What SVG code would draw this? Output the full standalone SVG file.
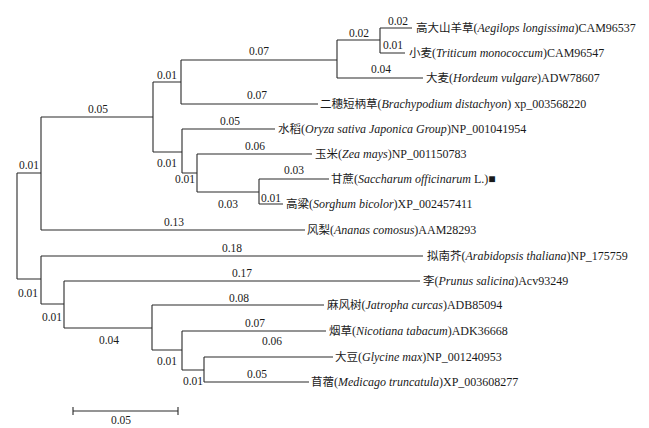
<svg xmlns="http://www.w3.org/2000/svg" width="649" height="428" viewBox="0 0 649 428">
<style>
.e{fill:none;stroke:#2a2a2a;stroke-width:1.1}
.n{font-family:"Liberation Serif",serif;font-size:11.5px;fill:#1a1a1a;text-anchor:middle}
.t{font-family:"Liberation Serif","Noto Sans CJK SC",serif;font-size:12px;fill:#1a1a1a}
.c{font-family:"Noto Sans CJK SC","Liberation Serif",sans-serif;font-size:11.5px}
.i{font-style:italic}
</style>
<rect width="649" height="428" fill="#fff"/>
<g id="connectors">
<path class="e" d="M17,173V279M17,173H41M41,117V230M41,117H153M153,82V152M153,82H181M181,60V104M181,60H337M337,40V78M337,40H380M380,28V53M380,28H412M380,53H405M337,78H423M181,104H318M153,152H182M182,129V173M182,129H275M182,173H197M197,154V192M197,154H312M197,192H259M259,179V204M259,179H329M259,204H283M41,230H305"/>
<path class="e" d="M17,279H41M41,256V304M41,256H423M41,304H64M64,281V328M64,281H420M64,328H152M152,305V350M152,305H324M152,350H182M182,331V370M182,331H326M182,370H204M204,357V382M204,357H333M204,382H309"/>
</g>
<g id="branch-lengths">
<text class="n" x="29" y="169">0.01</text>
<text class="n" x="98" y="113">0.05</text>
<text class="n" x="167" y="79">0.01</text>
<text class="n" x="259" y="55">0.07</text>
<text class="n" x="257" y="99">0.07</text>
<text class="n" x="359" y="37">0.02</text>
<text class="n" x="398" y="25">0.02</text>
<text class="n" x="393" y="49">0.01</text>
<text class="n" x="381" y="73">0.04</text>
<text class="n" x="230" y="125">0.05</text>
<text class="n" x="167" y="167">0.01</text>
<text class="n" x="255" y="150">0.06</text>
<text class="n" x="185" y="183">0.01</text>
<text class="n" x="294" y="174">0.03</text>
<text class="n" x="228" y="208">0.03</text>
<text class="n" x="271" y="202">0.01</text>
<text class="n" x="174" y="226">0.13</text>
<text class="n" x="28" y="297">0.01</text>
<text class="n" x="232" y="252">0.18</text>
<text class="n" x="242" y="277">0.17</text>
<text class="n" x="52" y="321">0.01</text>
<text class="n" x="109" y="344">0.04</text>
<text class="n" x="239" y="302">0.08</text>
<text class="n" x="167" y="365">0.01</text>
<text class="n" x="255" y="327">0.07</text>
<text class="n" x="272" y="345">0.06</text>
<text class="n" x="193" y="385">0.01</text>
<text class="n" x="257" y="378">0.05</text>
</g>
<g id="leaf-aegilops"><text class="t" x="416" y="32"><tspan class="c">高大山羊草</tspan>(<tspan class="i">Aegilops longissima</tspan>)CAM96537</text></g>
<g id="leaf-triticum"><text class="t" x="409" y="57"><tspan class="c">小麦</tspan>(<tspan class="i">Triticum monococcum</tspan>)CAM96547</text></g>
<g id="leaf-hordeum"><text class="t" x="426" y="82"><tspan class="c">大麦</tspan>(<tspan class="i">Hordeum vulgare</tspan>)ADW78607</text></g>
<g id="leaf-brachypodium"><text class="t" x="320" y="108"><tspan class="c">二穗短柄草</tspan>(<tspan class="i">Brachypodium distachyon</tspan>) xp_003568220</text></g>
<g id="leaf-oryza"><text class="t" x="278" y="133"><tspan class="c">水稻</tspan>(<tspan class="i">Oryza sativa Japonica Group</tspan>)NP_001041954</text></g>
<g id="leaf-zea"><text class="t" x="315" y="158"><tspan class="c">玉米</tspan>(<tspan class="i">Zea mays</tspan>)NP_001150783</text></g>
<g id="leaf-saccharum"><text class="t" x="331" y="183"><tspan class="c">甘蔗</tspan>(<tspan class="i">Saccharum officinarum</tspan> L.)■</text></g>
<g id="leaf-sorghum"><text class="t" x="286" y="208"><tspan class="c">高粱</tspan>(<tspan class="i">Sorghum bicolor</tspan>)XP_002457411</text></g>
<g id="leaf-ananas"><text class="t" x="307" y="234"><tspan class="c">风梨</tspan>(<tspan class="i">Ananas comosus</tspan>)AAM28293</text></g>
<g id="leaf-arabidopsis"><text class="t" x="427" y="260"><tspan class="c">拟南芥</tspan>(<tspan class="i">Arabidopsis thaliana</tspan>)NP_175759</text></g>
<g id="leaf-prunus"><text class="t" x="423" y="285"><tspan class="c">李</tspan>(<tspan class="i">Prunus salicina</tspan>)Acv93249</text></g>
<g id="leaf-jatropha"><text class="t" x="327" y="309"><tspan class="c">麻风树</tspan>(<tspan class="i">Jatropha curcas</tspan>)ADB85094</text></g>
<g id="leaf-nicotiana"><text class="t" x="329" y="335"><tspan class="c">烟草</tspan>(<tspan class="i">Nicotiana tabacum</tspan>)ADK36668</text></g>
<g id="leaf-glycine"><text class="t" x="335" y="361"><tspan class="c">大豆</tspan>(<tspan class="i">Glycine max</tspan>)NP_001240953</text></g>
<g id="leaf-medicago"><text class="t" x="311" y="386"><tspan class="c">苜蓿</tspan>(<tspan class="i">Medicago truncatula</tspan>)XP_003608277</text></g>
<g id="scale-bar">
<path class="e" d="M73,411H178M73,407V415M178,407V415"/>
<text class="n" x="121" y="424">0.05</text>
</g>
</svg>
